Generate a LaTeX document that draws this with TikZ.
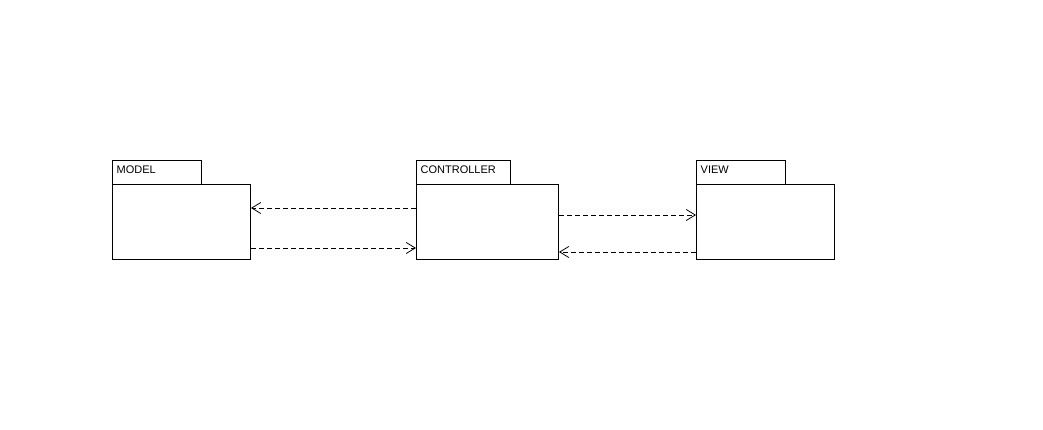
\documentclass[tikz,border=0pt]{standalone}
\usepackage{fontspec}
\setmainfont{Liberation Sans}
\usetikzlibrary{arrows.meta}
\begin{document}
\begin{tikzpicture}[x=1pt,y=-1pt,
  pkgbody/.style={draw,line width=1pt,minimum width=138pt,minimum height=75pt,anchor=north west,inner sep=0pt,fill=white},
  pkgtab/.style={draw,line width=1pt,minimum height=24pt,anchor=north west,inner sep=0pt,fill=white},
  pkglabel/.style={anchor=west,inner sep=0pt,font=\fontsize{11}{13}\selectfont},
  dep/.style={line width=0.8pt,dash pattern=on 5pt off 3pt,-{Straight Barb[length=9pt,width=11pt,line width=0.8pt]}}]
  \useasboundingbox (0,0) rectangle (1043,430);
  \fill[white] (0,0) rectangle (1043,430);

  % packages: tab first, then body
  \node[pkgtab,minimum width=89pt] (modeltab) at (112,160) {};
  \node[pkglabel] (modellbl) at (116.5,170) {MODEL};
  \node[pkgbody] (model) at (112,184) {};

  \node[pkgtab,minimum width=94pt] (ctrltab) at (416,160) {};
  \node[pkglabel] (ctrllbl) at (420.5,170) {CONTROLLER};
  \node[pkgbody,minimum width=142pt] (ctrl) at (416,184) {};

  \node[pkgtab,minimum width=89pt] (viewtab) at (696,160) {};
  \node[pkglabel] (viewlbl) at (700.5,170) {VIEW};
  \node[pkgbody] (view) at (696,184) {};

  % dependency rows
  \coordinate (r1) at (0,208);
  \coordinate (r2) at (0,248);
  \coordinate (r3) at (0,215);
  \coordinate (r4) at (0,252);

  \draw[dep] (ctrl.west |- r1) -- (model.east |- r1);
  \draw[dep] (model.east |- r2) -- (ctrl.west |- r2);
  \draw[dep] (ctrl.east |- r3) -- (view.west |- r3);
  \draw[dep] (view.west |- r4) -- (ctrl.east |- r4);
\end{tikzpicture}
\end{document}
